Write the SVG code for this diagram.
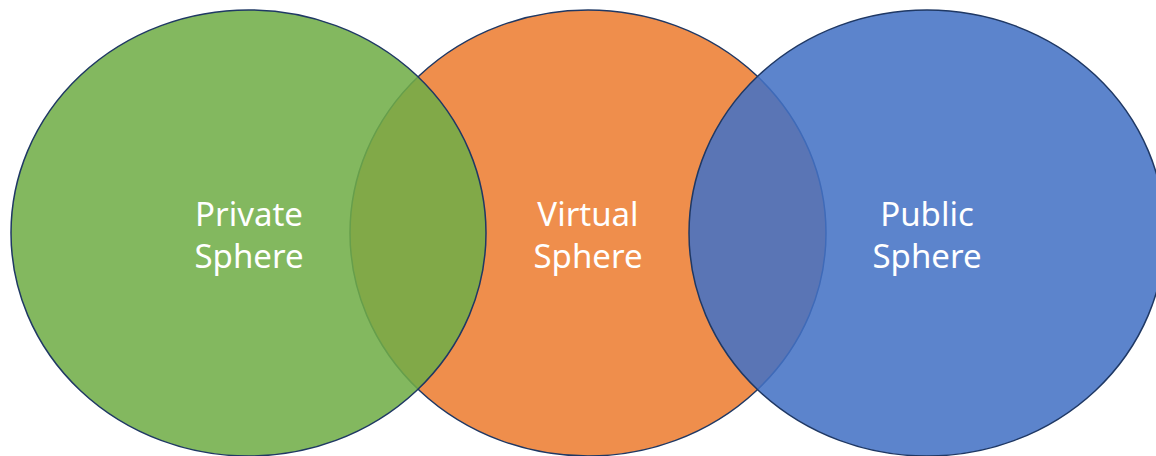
<svg xmlns="http://www.w3.org/2000/svg" width="1156" height="456" viewBox="0 0 1156 456">
  <style>
    .sphere { stroke: #1f3864; stroke-width: 1.5; fill-opacity: 0.87; }
    .label { font-family: "Noto Sans", "DejaVu Sans", sans-serif; font-size: 33px; fill: #ffffff; text-anchor: middle; }
  </style>
  <rect width="1156" height="456" fill="#ffffff"/>
  <!-- middle circle first so the outer circles lie over it -->
  <g id="virtual">
    <ellipse class="sphere" cx="588" cy="233" rx="238" ry="223" fill="#ED7D31"/>
    <text class="label" x="588" y="226">Virtual</text>
    <text class="label" x="588" y="268">Sphere</text>
  </g>
  <g id="private">
    <ellipse class="sphere" cx="248.5" cy="233" rx="237.5" ry="223" fill="#70AD47"/>
    <text class="label" x="249" y="226">Private</text>
    <text class="label" x="249" y="268">Sphere</text>
  </g>
  <g id="public">
    <ellipse class="sphere" cx="927" cy="233" rx="238" ry="223" fill="#4472C4"/>
    <text class="label" x="927" y="226">Public</text>
    <text class="label" x="927" y="268">Sphere</text>
  </g>
  <g id="connectors"/>
</svg>
